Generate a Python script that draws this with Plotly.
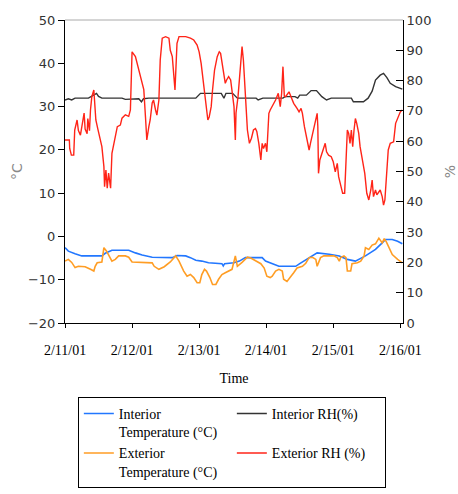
import plotly.graph_objects as go

# ---- data (x = days since 2/11/01 00:00) ----
tick_days = [0, 1, 2, 3, 4, 5]
tick_labels = ["2/11/01", "2/12/01", "2/13/01", "2/14/01", "2/15/01", "2/16/01"]

int_t_days = [0.0, 0.05, 0.15, 0.25, 0.55, 0.6, 0.7, 0.95, 1.05, 1.15, 1.3, 1.6, 1.67, 1.8, 1.87,
              1.95, 2.04, 2.14, 2.34, 2.36, 2.38, 2.52, 2.6, 2.69, 2.94, 2.99, 3.19, 3.44, 3.5,
              3.64, 3.76, 3.94, 4.09, 4.21, 4.33, 4.48, 4.63, 4.73, 4.78, 4.88, 4.96, 5.03]
int_temp = [-2.6, -3.4, -4.0, -4.5, -4.5, -3.9, -3.2, -3.2, -3.8, -4.3, -4.8, -4.9, -4.4, -4.5, -4.9,
            -5.5, -5.7, -6.1, -6.3, -6.8, -6.3, -6.1, -5.7, -4.9, -4.9, -5.7, -6.9, -6.9, -6.3,
            -4.9, -3.8, -4.1, -4.5, -5.3, -5.7, -4.5, -3.0, -1.5, -0.7, -0.7, -1.1, -1.7]

ext_t_days = [0.0, 0.05, 0.1, 0.15, 0.2, 0.3, 0.38, 0.43, 0.45, 0.48, 0.55, 0.58, 0.62, 0.65, 0.70,
              0.75, 0.80, 0.90, 0.95, 1.0, 1.3, 1.33, 1.40, 1.48, 1.57, 1.65, 1.70, 1.77, 1.82,
              1.87, 1.92, 1.97, 2.01, 2.04, 2.08, 2.11, 2.16, 2.20, 2.25, 2.29, 2.34, 2.39, 2.44,
              2.49, 2.54, 2.57, 2.64, 2.72, 2.77, 2.84, 2.92, 2.97, 3.01, 3.06, 3.09, 3.14, 3.19,
              3.24, 3.26, 3.31, 3.36, 3.41, 3.46, 3.54, 3.59, 3.64, 3.69, 3.74, 3.76, 3.81, 3.86,
              4.01, 4.06, 4.09, 4.11, 4.16, 4.19, 4.21, 4.26, 4.28, 4.36, 4.41, 4.46, 4.48, 4.53,
              4.58, 4.63, 4.66, 4.68, 4.73, 4.76, 4.79, 4.83, 4.88, 4.96, 5.03]
ext_temp = [-5.7, -5.3, -6.0, -7.2, -6.9, -7.0, -7.6, -8.0, -6.9, -6.1, -5.9, -2.6, -3.4, -4.2, -5.7,
            -5.3, -4.5, -4.5, -4.8, -5.9, -6.1, -6.9, -7.6, -7.0, -5.9, -4.5, -5.7, -8.0, -9.2,
            -8.8, -9.5, -10.7, -10.7, -8.8, -7.6, -8.0, -9.5, -11.1, -11.1, -9.9, -8.8, -8.4, -8.0,
            -7.6, -4.5, -6.9, -6.0, -4.8, -5.0, -5.7, -6.3, -7.3, -9.2, -9.5, -9.2, -8.0, -7.6,
            -8.0, -9.9, -10.4, -9.5, -8.4, -7.3, -6.9, -6.2, -4.9, -4.8, -5.3, -6.9, -4.9, -4.5,
            -4.5, -4.9, -5.7, -4.9, -4.5, -4.9, -8.0, -8.0, -6.3, -6.1, -5.7, -4.5, -2.6, -3.0,
            -2.0, -1.7, -0.7, -0.4, -1.5, -0.5, -1.2, -2.6, -4.2, -5.3, -6.1]

int_rh_days = [0.0, 0.05, 0.1, 0.15, 0.35, 0.42, 0.47, 0.5, 0.55, 0.85, 0.9, 1.1, 1.14, 1.17, 1.25,
               1.6, 1.95, 2.02, 2.33, 2.37, 2.4, 2.5, 2.57, 2.85, 2.88, 2.95, 3.25, 3.28, 3.43,
               3.47, 3.5, 3.6, 3.67, 3.75, 3.83, 3.9, 3.97, 4.27, 4.3, 4.45, 4.52, 4.58, 4.63,
               4.7, 4.75, 4.8, 4.85, 4.93, 5.0, 5.03]
int_rh = [73.6, 74.0, 73.6, 74.2, 74.2, 75.0, 75.8, 74.8, 74.2, 74.2, 73.8, 74.0, 73.0, 74.0, 74.2,
          74.2, 74.2, 75.8, 75.8, 74.2, 75.8, 75.8, 74.2, 74.2, 73.6, 74.2, 74.2, 74.7, 74.7,
          74.2, 75.2, 75.2, 76.7, 76.7, 74.7, 73.6, 74.2, 74.2, 73.0, 73.0, 74.2, 76.5, 80.2,
          81.8, 82.4, 81.0, 79.1, 78.0, 77.4, 77.2]

ext_rh_days = [0.0, 0.065, 0.07, 0.095, 0.13, 0.145, 0.18, 0.2, 0.23, 0.26, 0.285, 0.30, 0.33, 0.34,
               0.365, 0.38, 0.40, 0.43, 0.44, 0.46, 0.49, 0.53, 0.55, 0.58, 0.59, 0.61, 0.63, 0.65,
               0.68, 0.70, 0.73, 0.75, 0.78, 0.825, 0.85, 0.90, 0.95, 0.975, 1.0, 1.05, 1.10, 1.15,
               1.175, 1.20, 1.22, 1.25, 1.27, 1.30, 1.32, 1.35, 1.37, 1.40, 1.42, 1.45, 1.50, 1.55,
               1.57, 1.60, 1.62, 1.64, 1.655, 1.67, 1.70, 1.80, 1.87, 1.92, 1.97, 2.0, 2.03, 2.055,
               2.07, 2.09, 2.11, 2.13, 2.15, 2.18, 2.20, 2.23, 2.27, 2.30, 2.32, 2.35, 2.37, 2.39,
               2.41, 2.44, 2.47, 2.49, 2.52, 2.54, 2.55, 2.58, 2.61, 2.63, 2.64, 2.66, 2.68, 2.70,
               2.72, 2.75, 2.78, 2.81, 2.84, 2.86, 2.89, 2.92, 2.94, 2.96, 2.99, 3.01, 3.04, 3.06,
               3.09, 3.14, 3.18, 3.21, 3.23, 3.25, 3.27, 3.29, 3.34, 3.37, 3.41, 3.46, 3.49, 3.52,
               3.54, 3.57, 3.61, 3.64, 3.66, 3.69, 3.72, 3.74, 3.76, 3.77, 3.78, 3.80, 3.83, 3.86,
               3.88, 3.90, 3.93, 3.97, 4.0, 4.03, 4.06, 4.08, 4.10, 4.14, 4.17, 4.19, 4.21, 4.23,
               4.25, 4.27, 4.29, 4.31, 4.33, 4.35, 4.38, 4.40, 4.44, 4.47, 4.50, 4.53, 4.56, 4.58,
               4.60, 4.63, 4.65, 4.68, 4.70, 4.73, 4.75, 4.77, 4.79, 4.82, 4.85, 4.90, 4.93, 4.97,
               5.0, 5.03]
ext_rh = [60.4, 60.4, 57.6, 55.4, 55.4, 63.7, 67.0, 63.5, 62.0, 65.5, 69.3, 64.0, 62.5, 67.5,
          63.5, 70.3, 74.7, 76.9, 73.5, 67.0, 64.0, 59.8, 58.2, 51.6, 45.0, 50.5, 44.5, 49.5,
          44.5, 56.0, 59.8, 61.4, 64.8, 65.3, 67.6, 68.7, 68.2, 70.3, 89.5, 87.9, 83.5, 79.2,
          77.0, 68.0, 60.4, 64.8, 67.0, 72.6, 73.6, 70.3, 68.6, 73.6, 86.8, 94.0, 94.5, 94.0,
          90.0, 87.9, 82.5, 76.9, 84.6, 92.3, 94.5, 94.5, 94.0, 93.4, 91.7, 89.5, 85.7, 81.3,
          76.9, 73.6, 70.3, 67.0, 68.0, 71.4, 76.9, 83.5, 87.9, 89.5, 89.0, 84.6, 82.4, 79.1,
          80.2, 81.3, 80.2, 76.9, 71.4, 60.4, 69.3, 74.7, 82.4, 87.4, 91.2, 86.8, 78.0, 71.4,
          63.7, 59.3, 61.0, 63.7, 64.2, 63.2, 59.3, 53.8, 59.3, 57.6, 59.3, 56.5, 69.2, 70.3,
          71.4, 73.6, 75.8, 71.4, 75.8, 84.6, 75.0, 74.7, 76.3, 74.7, 72.5, 70.8, 69.7, 70.8,
          69.2, 64.8, 60.4, 57.1, 59.3, 62.6, 64.8, 68.1, 69.2, 64.8, 49.4, 53.8, 56.0, 58.2,
          59.3, 56.5, 55.4, 54.9, 53.2, 49.9, 52.7, 48.3, 46.1, 42.8, 42.8, 54.9, 63.7, 62.6,
          59.3, 63.7, 58.2, 63.7, 67.5, 65.9, 62.6, 58.2, 53.8, 49.4, 42.8, 40.6, 43.9, 47.2,
          41.7, 43.9, 42.3, 43.3, 43.9, 41.7, 38.9, 40.6, 47.2, 57.1, 59.3, 59.8, 65.9, 68.1,
          69.7, 70.3]

SANS = "DejaVu Sans"
SERIF = "Liberation Serif"

fig = go.Figure()
fig.add_trace(go.Scatter(x=int_t_days, y=int_temp, mode="lines", name="Interior<br>Temperature (°C)",
                         line=dict(color="#2277ff", width=1.6), yaxis="y"))
fig.add_trace(go.Scatter(x=int_rh_days, y=int_rh, mode="lines", name="Interior RH(%)",
                         line=dict(color="#333333", width=1.4), yaxis="y2"))
fig.add_trace(go.Scatter(x=ext_t_days, y=ext_temp, mode="lines", name="Exterior<br>Temperature (°C)",
                         line=dict(color="#ff9d24", width=1.6), yaxis="y"))
fig.add_trace(go.Scatter(x=ext_rh_days, y=ext_rh, mode="lines", name="Exterior RH (%)",
                         line=dict(color="#ff2418", width=1.4), yaxis="y2"))

fig.update_layout(
    width=458, height=494,
    margin=dict(l=65, r=55, t=20, b=171, autoexpand=False),
    paper_bgcolor="white", plot_bgcolor="white",
    showlegend=True,
    xaxis=dict(range=[0, 5.04], tickmode="array", tickvals=tick_days, ticktext=tick_labels,
               showgrid=False, zeroline=False, showline=True, linecolor="black", linewidth=1,
               ticks="outside", ticklen=4, tickcolor="black", ticklabelstandoff=10,
               tickfont=dict(family=SERIF, size=14, color="black"),
               title=dict(text="Time", font=dict(family=SERIF, size=14, color="black"), standoff=16)),
    yaxis=dict(range=[-20, 50], dtick=10, showgrid=False, zeroline=False, showline=True,
               linecolor="black", linewidth=1, ticks="outside", ticklen=6, tickcolor="black",
               tickfont=dict(family=SANS, size=13, color="#333333"),
               title=dict(text="°C", font=dict(family=SANS, size=14, color="#888888"), standoff=2)),
    yaxis2=dict(range=[0, 100], dtick=10, overlaying="y", side="right", showgrid=False,
                zeroline=False, showline=True, linecolor="black", linewidth=1, ticks="inside",
                ticklen=7, tickcolor="black",
                tickfont=dict(family=SANS, size=13, color="#333333"),
                title=dict(text="%", font=dict(family=SANS, size=14, color="#888888"), standoff=16)),
    legend=dict(orientation="h", x=0.038, y=-0.244, xanchor="left", yanchor="top",
                entrywidth=108, entrywidthmode="pixels", bordercolor="black", borderwidth=1,
                valign="top", traceorder="normal",
                font=dict(family=SERIF, size=14, color="black")),
    shapes=[dict(type="line", xref="paper", yref="paper", x0=0, x1=1, y0=1, y1=1,
                 line=dict(color="#aaaaaa", width=1))],
)

fig.write_html("out.html")
